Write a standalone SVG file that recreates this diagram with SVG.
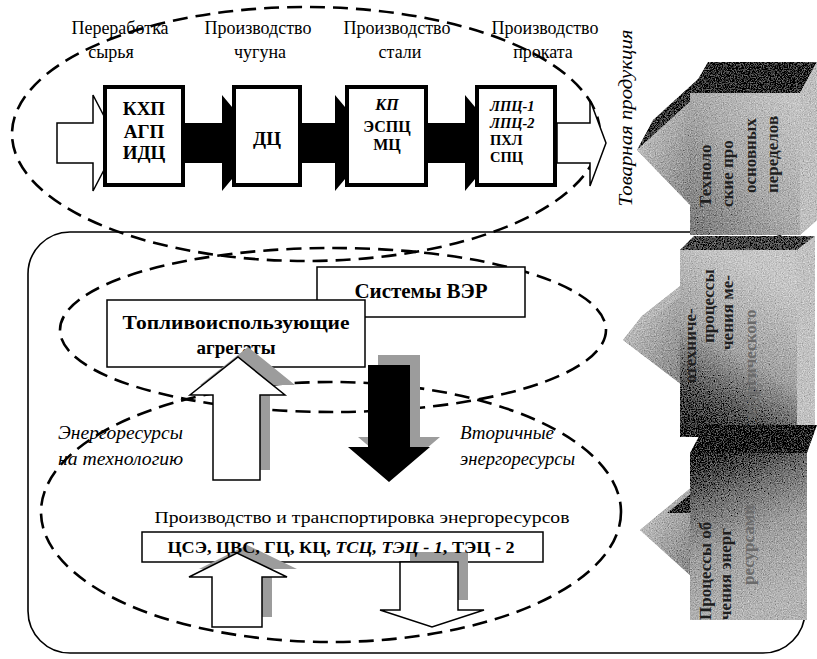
<svg xmlns="http://www.w3.org/2000/svg" width="817" height="659" viewBox="0 0 817 659">
<defs>
<style>
.t{font-family:"Liberation Serif","Times New Roman",serif;fill:#000}
.h{font-size:18px}
.b{font-weight:bold}
.i{font-style:italic}
.dash{fill:none;stroke:#000;stroke-width:2.6;stroke-dasharray:15 8}
.box{fill:#fff;stroke:#000;stroke-width:4}
.thin{fill:#fff;stroke:#000;stroke-width:1.5}
.warr{fill:#fff;stroke:#000;stroke-width:1.5;stroke-linejoin:miter}
.barr{fill:#000}
.shadow{fill:#9c9c9c}
.bt{font-family:"Liberation Serif","Times New Roman",serif;font-weight:bold;font-size:17px;fill:#1e1e1e}
.ft{font-family:"Liberation Serif","Times New Roman",serif;font-weight:bold;font-size:17px;fill:#6a6a6a}
</style>
<linearGradient id="front1" x1="0" y1="1" x2="1" y2="0">
<stop offset="0" stop-color="#7a7a7a"/><stop offset="0.5" stop-color="#ababab"/><stop offset="1" stop-color="#c8c8c8"/>
</linearGradient>
<linearGradient id="front2" x1="0" y1="1" x2="0.35" y2="0">
<stop offset="0" stop-color="#1e1e1e"/><stop offset="0.28" stop-color="#5a5a5a"/><stop offset="0.55" stop-color="#a2a2a2"/><stop offset="1" stop-color="#c6c6c6"/>
</linearGradient>
<linearGradient id="front3" x1="0" y1="0" x2="0.3" y2="1">
<stop offset="0" stop-color="#222"/><stop offset="0.3" stop-color="#6e6e6e"/><stop offset="0.6" stop-color="#a0a0a0"/><stop offset="1" stop-color="#b4b4b4"/>
</linearGradient>
<linearGradient id="arr" x1="0" y1="0" x2="1" y2="1">
<stop offset="0" stop-color="#cdcdcd"/><stop offset="1" stop-color="#858585"/>
</linearGradient>
<filter id="grain" filterUnits="userSpaceOnUse" x="590" y="40" width="227" height="600">
<feTurbulence type="fractalNoise" baseFrequency="0.85" numOctaves="2" seed="7" result="n"/>
<feColorMatrix in="n" type="matrix" values="0.33 0.33 0.33 0 0 0.33 0.33 0.33 0 0 0.33 0.33 0.33 0 0 0 0 0 0 1" result="g"/>
<feComposite in="SourceGraphic" in2="g" operator="arithmetic" k1="0" k2="1" k3="1.1" k4="-0.55" result="m"/>
<feComposite in="m" in2="SourceGraphic" operator="in"/>
</filter>
</defs>
<rect width="817" height="659" fill="#fff"/>

<!-- enclosing rounded frame -->
<rect id="frame" x="28" y="232" width="777" height="421" rx="42" ry="42" fill="none" stroke="#000" stroke-width="1.6"/>

<!-- header labels -->
<g id="labels" class="t h">
<text x="120" y="34" text-anchor="middle">Переработка</text>
<text x="111" y="58" text-anchor="middle">сырья</text>
<text x="258" y="34" text-anchor="middle">Производство</text>
<text x="260" y="58" text-anchor="middle">чугуна</text>
<text x="397" y="34" text-anchor="middle">Производство</text>
<text x="400" y="58" text-anchor="middle">стали</text>
<text x="545" y="34" text-anchor="middle">Производство</text>
<text x="543" y="58" text-anchor="middle">проката</text>
</g>

<g id="side-labels" class="t i" font-size="18">
<text x="58" y="439" textLength="125" lengthAdjust="spacingAndGlyphs">Энергоресурсы</text>
<text x="58" y="465" textLength="125" lengthAdjust="spacingAndGlyphs">на технологию</text>
<text x="460" y="439" textLength="94" lengthAdjust="spacingAndGlyphs">Вторичные</text>
<text x="460" y="465" textLength="115" lengthAdjust="spacingAndGlyphs">энергоресурсы</text>
</g>
<text id="prod-label" class="t" x="362" y="523" font-size="17" text-anchor="middle" textLength="415" lengthAdjust="spacingAndGlyphs">Производство и транспортировка энергоресурсов</text>

<!-- dashed groupings -->
<g id="groupings">
<ellipse class="dash" cx="306" cy="134" rx="294" ry="127"/>
<ellipse class="dash" cx="333" cy="330" rx="273" ry="82"/>
<ellipse class="dash" cx="331" cy="512" rx="290" ry="130"/>
</g>

<!-- connectors -->
<g id="connectors">
<polygon class="warr" points="57,123 93,123 93,95 118,143 93,191 93,163 57,163"/>
<polygon class="barr" points="183,123 222,123 222,95 262,143 222,191 222,163 183,163"/>
<polygon class="barr" points="300,123 335,123 335,95 375,143 335,191 335,163 300,163"/>
<polygon class="barr" points="426,123 465,123 465,95 505,143 465,191 465,163 426,163"/>
<polygon class="warr" points="557,123 590,123 590,100 606,143 590,186 590,163 557,163"/>
</g>

<!-- top process nodes -->
<g id="node-kxp">
<rect class="box" x="105" y="87" width="78" height="98"/>
<g class="t b" font-size="19" text-anchor="middle">
<text x="144" y="115">КХП</text>
<text x="144" y="138">АГП</text>
<text x="144" y="159">ИДЦ</text>
</g>
</g>
<g id="node-dc">
<rect class="box" x="234" y="87" width="66" height="98"/>
<text class="t b" x="267" y="145" font-size="19" text-anchor="middle">ДЦ</text>
</g>
<g id="node-kp">
<rect class="box" x="347" y="87" width="79" height="98"/>
<g class="t b" font-size="16" text-anchor="middle">
<text x="387" y="110" font-style="italic">КП</text>
<text x="387" y="132">ЭСПЦ</text>
<text x="387" y="150">МЦ</text>
</g>
</g>
<g id="node-lpc">
<rect class="box" x="477" y="87" width="78" height="98"/>
<g class="t b" font-size="14.5">
<text x="490" y="111" font-style="italic">ЛПЦ-1</text>
<text x="490" y="128" font-style="italic">ЛПЦ-2</text>
<text x="490" y="145">ПХЛ</text>
<text x="490" y="162">СПЦ</text>
</g>
</g>

<!-- middle nodes -->
<g id="node-ver">
<rect class="thin" x="317" y="267" width="208" height="50"/>
<text class="t b" x="421" y="298" font-size="21" text-anchor="middle">Системы ВЭР</text>
</g>
<g id="node-fuel">
<rect class="thin" x="107" y="300" width="258" height="67"/>
<text class="t b" x="236" y="329" font-size="19" text-anchor="middle" textLength="227" lengthAdjust="spacingAndGlyphs">Топливоиспользующие</text>
<text class="t b" x="236" y="354" font-size="19" text-anchor="middle">агрегаты</text>
</g>

<!-- middle arrows -->
<g id="flow-arrows">
<polygon class="shadow" points="223,470 223,385 200,385 248,347 295,385 270,385 270,470"/>
<polygon class="warr" points="213,480 213,395 190,395 238,357 285,395 260,395 260,480"/>
<polygon class="shadow" points="378,355 420,355 420,437 440,437 399,472 358,437 378,437"/>
<polygon class="barr" points="368,365 410,365 410,447 430,447 389,482 348,447 368,447"/>
</g>

<!-- bottom node -->
<g id="node-energy">
<rect class="thin" x="142" y="532" width="401" height="30"/>
<polygon class="shadow" points="222,617 222,569 199,569 247,545 297,569 272,569 272,617"/>
<polygon class="warr" points="212,627 212,577 189,577 237,553 287,577 262,577 262,627"/>
<polygon class="shadow" points="410,552 468,552 468,600 410,600"/>
<polygon class="warr" points="400,562 458,562 458,610 484,610 432,627 380,610 400,610"/>
<text class="t b" x="341" y="553" font-size="16" text-anchor="middle" textLength="347" lengthAdjust="spacingAndGlyphs">ЦСЭ, ЦВС, ГЦ, КЦ, <tspan font-style="italic">ТСЦ, ТЭЦ - 1</tspan>, ТЭЦ - 2</text>
</g>

<!-- right side 3D blocks -->
<g id="block-tech" filter="url(#grain)">
<polygon points="637,150 692,100 708,70 653,120" fill="#3c3c3c"/>
<polygon points="692,100 637,150 692,207" fill="url(#arr)"/>
<polygon points="690,93 708,62 817,62 800,93" fill="#2e2e2e"/>
<rect x="690" y="93" width="110" height="142" fill="url(#front1)"/>
<polygon points="800,93 817,62 817,220 800,235" fill="#c0c0c0"/>
</g>
<g id="block-tech-text" class="bt">
<text transform="translate(711,207) rotate(-90)">Техноло</text>
<text transform="translate(733,207) rotate(-90)">ские про</text>
<text transform="translate(756,193) rotate(-90)">основных</text>
<text transform="translate(778,193) rotate(-90)">переделов</text>
</g>

<g id="block-heat" filter="url(#grain)">
<polygon points="623,340 682,295 698,272 642,316" fill="#b8b8b8"/>
<polygon points="682,295 623,340 682,385" fill="url(#arr)"/>
<polygon points="680,250 694,236 815,236 797,250" fill="#4a4a4a"/>
<rect x="680" y="250" width="117" height="187" fill="url(#front2)"/>
<polygon points="797,250 815,236 815,425 797,437" fill="#c2c2c2"/>
</g>
<g id="block-heat-text" class="bt">
<text transform="translate(696,383) rotate(-90)">отехниче-</text>
<text transform="translate(714,343) rotate(-90)">процессы</text>
<text transform="translate(733,350) rotate(-90)">чения ме-</text>
<text class="ft" transform="translate(756,440) rotate(-90)">таллургического</text>
</g>

<g id="block-supply" filter="url(#grain)">
<polygon points="692,487 640,530 692,577" fill="url(#arr)"/>
<polygon points="667,513 692,493 692,513" fill="#333"/>
<polygon points="690,453 705,425 817,425 807,453" fill="#1a1a1a"/>
<rect x="690" y="453" width="117" height="167" fill="url(#front3)"/>
</g>
<g id="block-supply-text" class="bt">
<text transform="translate(711,620) rotate(-90)">Процессы об</text>
<text transform="translate(731,620) rotate(-90)">чения энерг</text>
<text class="ft" transform="translate(754,585) rotate(-90)">ресурсами</text>
</g>

<text id="goods" class="t i" font-size="18" transform="translate(632,118) rotate(-90)" text-anchor="middle" textLength="177" lengthAdjust="spacingAndGlyphs">Товарная продукция</text>
</svg>
